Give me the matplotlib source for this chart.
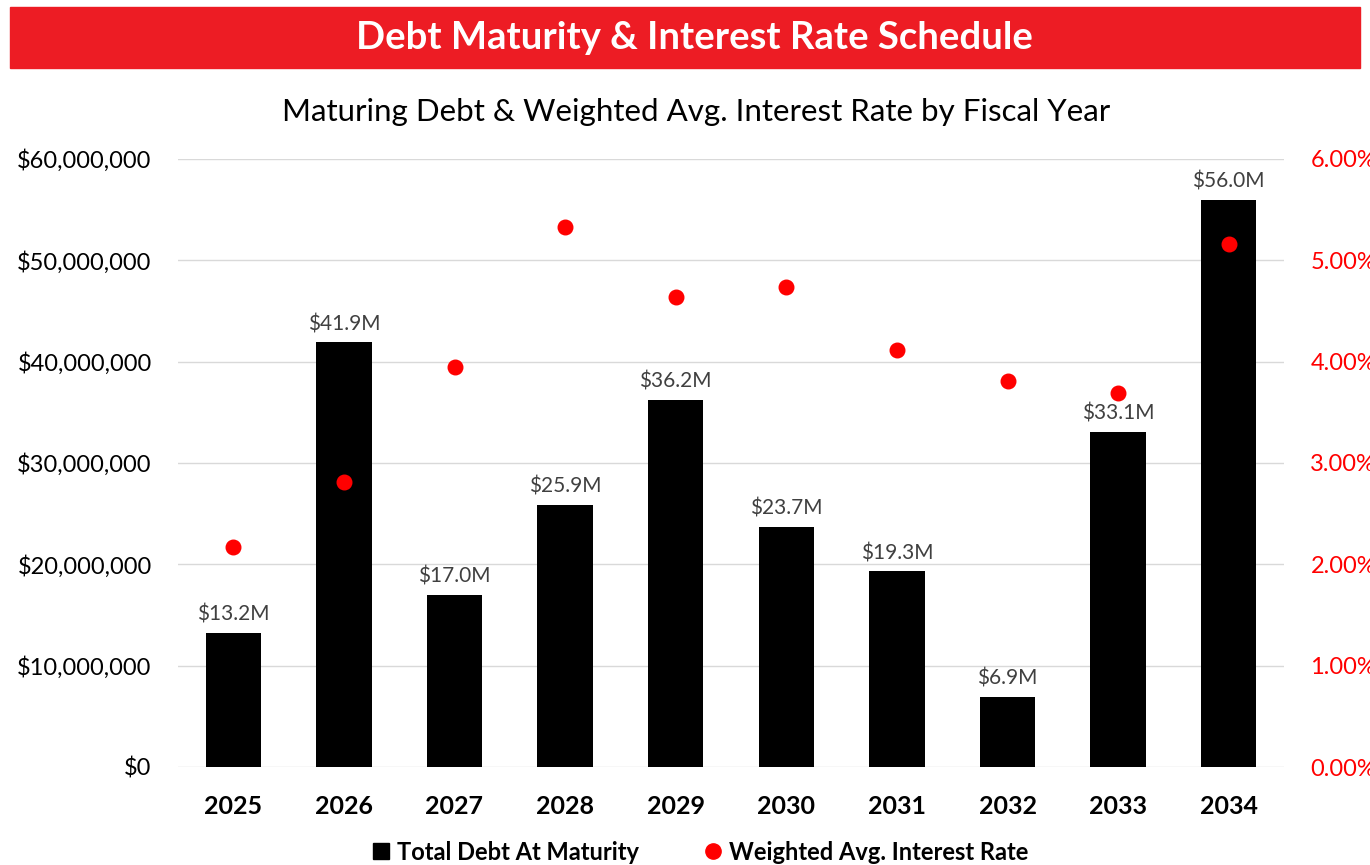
import matplotlib.pyplot as plt
from matplotlib.patches import Rectangle
from matplotlib.lines import Line2D
from matplotlib.ticker import FuncFormatter

# data
years = ['2025', '2026', '2027', '2028', '2029', '2030', '2031', '2032', '2033', '2034']
debt_m = [13.2, 41.9, 17.0, 25.9, 36.2, 23.7, 19.3, 6.9, 33.1, 56.0]  # $ millions
rate_pct = [2.17, 2.81, 3.95, 5.33, 4.64, 4.74, 4.12, 3.81, 3.69, 5.16]  # %

plt.rcParams['font.family'] = ['Lato', 'DejaVu Sans']

RED = '#ED1C24'
DOT = '#FF0000'
GRID = '#D9D9D9'

fig = plt.figure(figsize=(13.7, 8.65), dpi=100)

# red banner with title
fig.patches.append(Rectangle((10 / 1370, 1 - 68 / 865), 1350 / 1370, 61 / 865,
                             transform=fig.transFigure, color=RED, zorder=0))
fig.text(0.507, 1 - 38 / 865, 'Debt Maturity & Interest Rate Schedule', color='white',
         fontsize=27.5, fontweight='bold', ha='center', va='center')
fig.text(0.508, 1 - 112 / 865, 'Maturing Debt & Weighted Avg. Interest Rate by Fiscal Year',
         fontsize=22.5, ha='center', va='center')

ax = fig.add_axes([178 / 1370, 1 - 767 / 865, 1106 / 1370, 608 / 865])
x = list(range(len(years)))
debt = [v * 1e6 for v in debt_m]
ax.bar(x, debt, width=0.5, color='black', zorder=3, label='Total Debt At Maturity')
for xi, v in zip(x, debt_m):
    ax.annotate(f'${v:.1f}M', (xi, v * 1e6), xytext=(0, 6), textcoords='offset points',
                ha='center', va='bottom', fontsize=15, color='#404040')

ax.set_xlim(-0.5, len(years) - 0.5)
ax.set_ylim(0, 60e6)
ax.set_yticks([i * 10e6 for i in range(7)])
ax.yaxis.set_major_formatter(FuncFormatter(lambda v, p: f'${v:,.0f}'))
ax.set_xticks(x)
ax.set_xticklabels(years, fontsize=18, fontweight='bold')
ax.tick_params(axis='y', labelsize=17, length=0, pad=19)
ax.tick_params(axis='x', length=0, pad=20)
ax.grid(axis='y', color=GRID, linewidth=1, zorder=0)
for s in ax.spines.values():
    s.set_visible(False)

ax2 = ax.twinx()
ax2.scatter(x, rate_pct, s=110, color=DOT, zorder=4, label='Weighted Avg. Interest Rate')
ax2.set_ylim(0, 6)
ax2.set_yticks(range(7))
ax2.yaxis.set_major_formatter(FuncFormatter(lambda v, p: f'{v:.2f}%'))
ax2.tick_params(axis='y', labelsize=17, length=0, pad=19, labelcolor=DOT)
for s in ax2.spines.values():
    s.set_visible(False)

handles = [Line2D([], [], marker='s', color='black', linestyle='none', markersize=11),
           Line2D([], [], marker='o', color=DOT, linestyle='none', markersize=11)]
fig.legend(handles, ['Total Debt At Maturity', 'Weighted Avg. Interest Rate'],
           loc='center', bbox_to_anchor=(0.51, 0.015), ncol=2, frameon=False,
           prop={'size': 17, 'weight': 'bold'}, handletextpad=0.2, columnspacing=2.6,
           handlelength=1.0)

fig.savefig('out.png', dpi=100)
